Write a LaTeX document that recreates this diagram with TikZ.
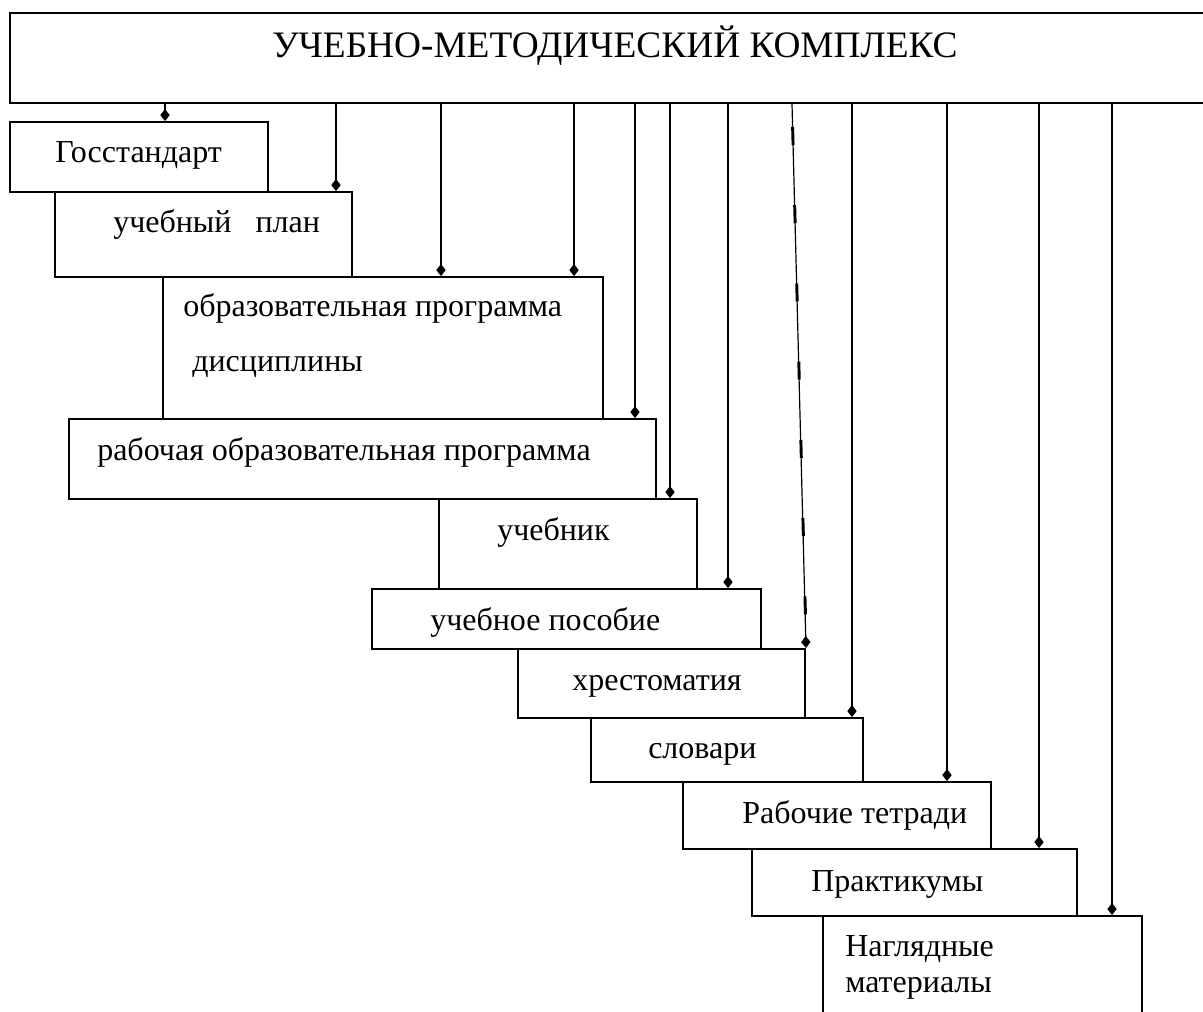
\documentclass[tikz,border=0pt]{standalone}
\usepackage{fontspec}
\setmainfont{Liberation Serif}
\usetikzlibrary{arrows.meta}
\usetikzlibrary{fit}
\tikzset{umkbox/.style={draw, rectangle, inner sep=0pt, line width=1.4pt}}
\tikzset{umktext/.style={anchor=base west, inner sep=0pt, font=\fontsize{24}{28}\selectfont}}
\tikzset{umkarrow/.style={line width=0.9pt, -{Kite[length=9pt,width=7pt,inset=4.5pt]}}}
\tikzset{umkdash/.style={line width=2.2pt, dash pattern=on 13.5pt off #1}}

\begin{document}
\begin{tikzpicture}[x=0.75pt, y=-0.75pt]
				\useasboundingbox (0,0) rectangle (1203,1012);
				%
				\node[umkbox, fit={(10,13) (1220,103)}] (kompl) {};
				\node[umkbox, fit={(10,122) (268,192)}] (gos) {};
				\node[umkbox, fit={(55,192) (352,277)}] (plan) {};
				\node[umkbox, fit={(163,277) (603,419)}] (obr) {};
				\node[umkbox, fit={(69,419) (656,499)}] (rab) {};
				\node[umkbox, fit={(439,499) (697,589)}] (ucheb) {};
				\node[umkbox, fit={(372,589) (761,649)}] (posob) {};
				\node[umkbox, fit={(518,649) (805,718)}] (khrest) {};
				\node[umkbox, fit={(591,718) (863,782)}] (slov) {};
				\node[umkbox, fit={(683,782) (991,849)}] (rabt) {};
				\node[umkbox, fit={(752,849) (1077,916)}] (prakt) {};
				\node[umkbox, fit={(823,916) (1142,1040)}] (nagl) {};
				%
				\node[umktext, font=\fontsize{28}{32}\selectfont] (kompl-t) at (272,58) {УЧЕБНО-МЕТОДИЧЕСКИЙ КОМПЛЕКС};
				\node[umktext] (gos-t) at (55,163) {Госстандарт};
				\node[umktext] (plan-t) at (113,233) {учебный\ \ \ план};
				\node[umktext] (obr-t1) at (183,317) {образовательная программа};
				\node[umktext] (obr-t2) at (192,372) {дисциплины};
				\node[umktext] (rab-t) at (97,460) {рабочая образовательная программа};
				\node[umktext] (ucheb-t) at (497,540) {учебник};
				\node[umktext] (posob-t) at (430,630) {учебное пособие};
				\node[umktext] (khrest-t) at (572,690) {хрестоматия};
				\node[umktext] (slov-t) at (648,758) {словари};
				\node[umktext] (rabt-t) at (742,823) {Рабочие тетради};
				\node[umktext] (prakt-t) at (811,891) {Практикумы};
				\node[umktext] (nagl-t1) at (845,956) {Наглядные};
				\node[umktext] (nagl-t2) at (845,992) {материалы};
				%
				\draw[umkarrow] (kompl.south -| 165,0) -- (gos.north -| 165,0);
				\draw[umkarrow] (kompl.south -| 336,0) -- (plan.north -| 336,0);
				\draw[umkarrow] (kompl.south -| 441,0) -- (obr.north -| 441,0);
				\draw[umkarrow] (kompl.south -| 574,0) -- (obr.north -| 574,0);
				\draw[umkarrow] (kompl.south -| 635,0) -- (rab.north -| 635,0);
				\draw[umkarrow] (kompl.south -| 670,0) -- (ucheb.north -| 670,0);
				\draw[umkarrow] (kompl.south -| 728,0) -- (posob.north -| 728,0);
				\draw[umkarrow] (kompl.south -| 792,0) -- (khrest.north -| 806,0);
				\draw[umkarrow] (kompl.south -| 852,0) -- (slov.north -| 852,0);
				\draw[umkarrow] (kompl.south -| 947,0) -- (rabt.north -| 947,0);
				\draw[umkarrow] (kompl.south -| 1039,0) -- (prakt.north -| 1039,0);
				\draw[umkarrow] (kompl.south -| 1112,0) -- (nagl.north -| 1112,0);
				%
				\draw[umkdash=100pt, dash phase=91.75pt] (kompl.south -| 336,0) -- (plan.north -| 336,0);
				\draw[umkdash=45.2pt, dash phase=41.45pt] (kompl.south -| 792,0) -- ([yshift=9pt]khrest.north -| 806,0);
\end{tikzpicture}
\end{document}
